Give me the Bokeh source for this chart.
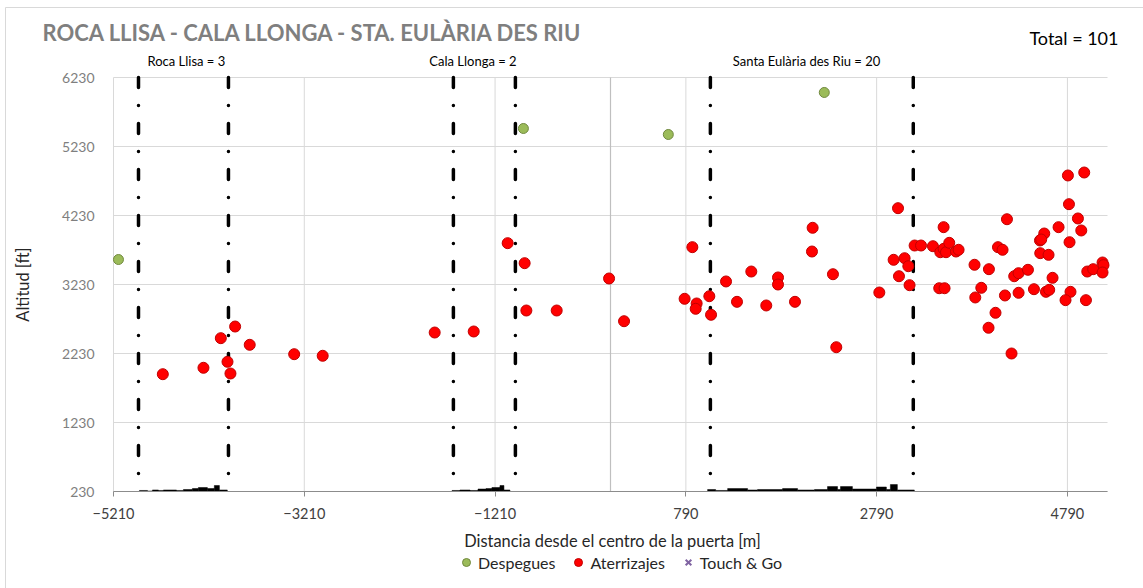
import math
from bokeh.plotting import figure
from bokeh.models import Label, Legend, LegendItem, FixedTicker, Range1d, ColumnDataSource
from bokeh.embed import file_html
from bokeh.resources import INLINE

# ---------------- data ----------------
title_text = "ROCA LLISA - CALA LLONGA - STA. EULÀRIA DES RIU"
total_text = "Total = 101"
x_title = "Distancia desde el centro de la puerta [m]"
y_title = "Altitud [ft]"
x_ticks = [-5210, -3210, -1210, 790, 2790, 4790]
y_ticks = [230, 1230, 2230, 3230, 4230, 5230, 6230]

corridor_bounds = [-4948, -4005, -1647, -997, 1047, 3174]
corridor_names = ["Roca Llisa = 3", "Cala Llonga = 2", "Santa Eulària des Riu = 20"]
corridor_label_x = [-4446, -1442, 2055]

desp_x = [-5158, -913, 606, 2241]
desp_y = [3592, 5491, 5404, 6013]

aterr_x = [-4693, -4267, -4085, -3935, -4015, -3984, -3782, -3316, -3017,
           -1843, -1434, -1078, -900, -882, -564, -15, 142,
           858, 777, 903, 893, 1036, 1054, 1211, 1326, 1476, 1633, 1756, 1756,
           1934, 2119, 2112, 2332, 2367, 2818, 2968, 3014, 3083, 3024, 3122,
           3135, 3188, 3255, 3380, 3492, 3446, 3502, 3457, 3492, 3517, 3551,
           3622, 3649, 3816, 3824, 3887, 3967, 4036, 3963, 4156, 4062, 4110,
           4135, 4204, 4232, 4278, 4278, 4376, 4439, 4502, 4547, 4515, 4505,
           4592, 4634, 4565, 4599, 4697, 4806, 4812, 4900, 4935, 4822, 4770,
           4984, 4998, 5060, 5158, 5168, 5158, 4795, 4966]
aterr_y = [1930, 2023, 2452, 2621, 2110, 1940, 2356, 2220, 2197,
           2534, 2549, 3829, 3539, 2853, 2853, 3317, 2698,
           3771, 3023, 2955, 2878, 3060, 2791, 3274, 2979, 3418, 2926, 3332, 3230,
           2979, 4052, 3708, 3379, 2321, 3114, 3588, 4336, 3611, 3350, 3495,
           3220, 3795, 3795, 3785, 4061, 3176, 3176, 3698, 3747, 3698, 3834,
           3708, 3733, 3516, 3042, 3182, 3452, 2820, 2603, 4176, 3771, 3733,
           3071, 2230, 3350, 3394, 3110, 3443, 3162, 3868, 3969, 3882, 3684,
           3660, 3327, 3124, 3153, 4061, 4394, 3843, 4187, 4013, 3124, 3003,
           3003, 3418, 3452, 3549, 3510, 3404, 4810, 4853]

# no Touch & Go movements in this chart
touch_x = []
touch_y = []

# terrain profile under the corridors
terrain_left = [-4938, -4854, -4802, -4739, -4687, -4550, -4477, -4383, -4320, -4226, -4153, -4100,
                -1661, -1578, -1473, -1389, -1305, -1243, -1159, -1117,
                1018, 1102, 1228, 1437, 1542, 1804, 1961, 2139, 2275, 2380, 2411, 2536, 2788, 2892, 2934, 3007]
terrain_right = [-4854, -4802, -4739, -4687, -4550, -4477, -4383, -4320, -4226, -4153, -4100, -4017,
                 -1578, -1473, -1389, -1305, -1243, -1159, -1117, -1054,
                 1102, 1228, 1437, 1542, 1804, 1961, 2139, 2275, 2380, 2411, 2536, 2788, 2892, 2934, 3007, 3185]
terrain_top = [245, 237, 252, 245, 252, 245, 259, 273, 288, 273, 317, 252,
               245, 252, 245, 266, 273, 288, 317, 252,
               259, 245, 273, 252, 259, 273, 252, 259, 302, 259, 302, 266, 295, 259, 331, 252]

# axis extents of the plotting area
X0, X1 = -5210, 5210
Y0, Y1 = 230, 6230

# ---------------- layout ----------------
W, H = 1143, 588
PL, PR, PT, PB = 113, 36, 77, 97          # plot-area margins inside the chart, px
mx = (X1 - X0) / (W - PL - PR)            # metres per px
my = (Y1 - Y0) / (H - PT - PB)            # feet per px

FONT = "Lato"

p = figure(width=W, height=H, output_backend="svg", toolbar_location=None,
           x_range=Range1d(X0 - PL * mx, X1 + PR * mx),
           y_range=Range1d(Y0 - PB * my, Y1 + PT * my),
           min_border=0, background_fill_color="white", border_fill_color="white")
p.outline_line_color = None
p.xgrid.visible = False
p.ygrid.visible = False

# chart border (top/left edges visible in the picture)
p.quad(left=[X0 - (PL - 5) * mx], right=[X1 + (PR + 20) * mx],
       top=[Y1 + (PT - 7) * my], bottom=[Y0 - (PB + 20) * my],
       fill_color=None, line_color="#d9d9d9", line_width=1)

# gridlines limited to the plotting area
p.segment(x0=x_ticks, x1=x_ticks, y0=[Y0] * len(x_ticks), y1=[Y1] * len(x_ticks),
          line_color="#d9d9d9", line_width=1)
p.segment(x0=[X0] * len(y_ticks), x1=[X1] * len(y_ticks), y0=y_ticks, y1=y_ticks,
          line_color="#d9d9d9", line_width=1)
# vertical value-axis line at x = 0
p.segment(x0=[0], x1=[0], y0=[Y0], y1=[Y1], line_color="#bfbfbf", line_width=1.2)

# axes fixed on the plotting-area edges
p.xaxis.fixed_location = Y0
p.yaxis.fixed_location = X0
p.xaxis.ticker = FixedTicker(ticks=x_ticks)
p.yaxis.ticker = FixedTicker(ticks=y_ticks)
p.xaxis.minor_tick_line_color = None
p.yaxis.minor_tick_line_color = None
p.xaxis.axis_line_color = None
p.xaxis.major_tick_line_color = "#8c8c8c"
p.xaxis.major_tick_out = 5
p.xaxis.major_tick_in = 0
p.xaxis.major_label_standoff = 11
p.xaxis.major_label_text_font = FONT
p.xaxis.major_label_text_font_size = "14.5px"
p.xaxis.major_label_text_color = "#404040"

p.yaxis.axis_line_color = None
p.yaxis.major_tick_line_color = None
p.yaxis.major_label_standoff = 13
p.yaxis.major_label_text_font = FONT
p.yaxis.major_label_text_font_size = "14px"
p.yaxis.major_label_text_color = "#7f7f7f"

# terrain profile
p.quad(left=terrain_left, right=terrain_right, bottom=Y0, top=terrain_top,
       fill_color="black", line_color="black", line_width=0.5)

# horizontal axis line
p.segment(x0=[X0], x1=[X1], y0=[Y0], y1=[Y0], line_color="#8c8c8c", line_width=1.2)

# corridor boundaries (long dash - dot)
p.segment(x0=corridor_bounds, x1=corridor_bounds,
          y0=[Y1] * len(corridor_bounds), y1=[Y0] * len(corridor_bounds),
          line_color="black", line_width=3.5, line_dash="10 18 0 18", line_cap="round")

# data points (an empty series keeps a NaN placeholder so its legend glyph is drawn)
touch_src = ColumnDataSource(dict(x=touch_x or [math.nan], y=touch_y or [math.nan]))
r_touch = p.scatter(x="x", y="y", source=touch_src, marker="x", size=10,
                    line_color="#8064a2", line_width=2)
r_desp = p.scatter(x=desp_x, y=desp_y, marker="circle", size=10,
                   fill_color="#9bbb59", line_color="#71893f", line_width=1)
r_aterr = p.scatter(x=aterr_x, y=aterr_y, marker="circle", size=11,
                    fill_color="#ff0000", line_color="#c00000", line_width=1)

legend = Legend(items=[LegendItem(label="Despegues", renderers=[r_desp]),
                       LegendItem(label="Aterrizajes", renderers=[r_aterr]),
                       LegendItem(label="Touch & Go", renderers=[r_touch])],
                orientation="horizontal", location=(456, 16),
                border_line_color=None, background_fill_alpha=0,
                label_text_font=FONT, label_text_font_size="16px", label_text_color="#262626",
                glyph_width=20, glyph_height=20, label_standoff=2, spacing=13,
                padding=0, margin=0, label_height=20)
p.add_layout(legend, "center")

# texts
p.add_layout(Label(x=X0 - 71 * mx, y=Y0 + 459 * my, text=title_text, text_align="left",
                   text_baseline="middle", text_font=FONT, text_font_size="22px",
                   text_font_style="bold", text_color="#7f7f7f"))
p.add_layout(Label(x=X1 + 11 * mx, y=Y0 + 454 * my, text=total_text, text_align="right",
                   text_baseline="middle", text_font=FONT, text_font_size="18px",
                   text_color="black"))
for name, lx in zip(corridor_names, corridor_label_x):
    p.add_layout(Label(x=lx, y=Y0 + 431 * my, text=name, text_align="center",
                       text_baseline="middle", text_font=FONT, text_font_size="13px",
                       text_color="black"))
p.add_layout(Label(x=X0 + 499 * mx, y=Y0 - 49 * my, text=x_title, text_align="center",
                   text_baseline="middle", text_font=FONT, text_font_size="16.4px",
                   text_color="#262626"))
p.add_layout(Label(x=X0 - 91 * mx, y=Y0 + 207 * my, text=y_title, text_align="center",
                   text_baseline="middle", angle=math.pi / 2, text_font=FONT,
                   text_font_size="16.4px", text_color="#262626"))

open("out.html", "w").write(file_html(p, INLINE))
